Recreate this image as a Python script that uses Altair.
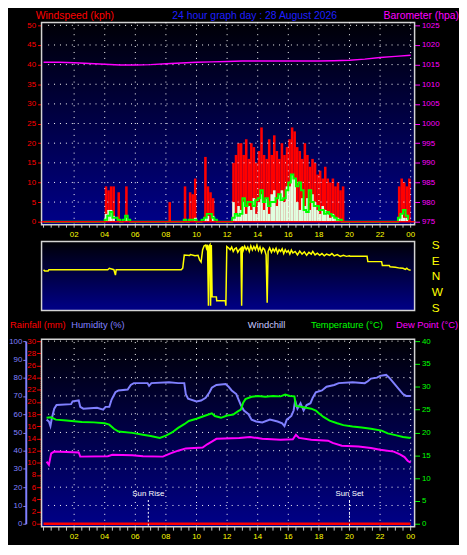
import altair as alt
import pandas as pd

FONT = "Liberation Sans"

# ---------------- data ----------------
# wind, 10-minute steps, one row per hour (00..23)
gust_kph = [
    0, 0, 0, 0, 0, 0,
    0, 0, 0, 0, 0, 0,
    0, 0, 0, 0, 0, 0,
    0, 0, 0, 0, 0, 0,
    9, 8, 9, 9, 0, 7.5,
    0, 0, 9, 0, 0, 0,
    0, 0, 0, 0, 0, 0,
    0, 0, 0, 0, 0, 0,
    0, 5, 0, 0, 0, 0,
    0, 9, 0, 7.5, 7, 11,
    0, 0, 0, 16.5, 9, 7.5,
    6, 0, 0, 0, 0, 0,
    0, 0, 15, 17, 20, 20,
    17, 21, 16, 20, 19, 15,
    18, 24, 17, 16, 21, 17,
    22, 18, 16, 20, 17, 19,
    21, 24, 23, 19, 18, 16,
    20, 17, 14, 16, 15, 12,
    13, 11, 14, 11, 10, 11,
    9, 10, 8, 9, 0, 0,
    0, 0, 0, 0, 0, 0,
    0, 0, 0, 0, 0, 0,
    0, 0, 0, 0, 0, 0,
    0, 9, 11, 10, 9, 11,
]
speed_kph = [
    0, 0, 0, 0, 0, 0,
    0, 0, 0, 0, 0, 0,
    0, 0, 0, 0, 0, 0,
    0, 0, 0, 0, 0, 0,
    2, 3, 3, 1.5, 0, 0,
    0, 0, 1, 0, 0, 0,
    0, 0, 0, 0, 0, 0,
    0, 0, 0, 0, 0, 0,
    0, 0, 0, 0, 0, 0,
    0, 0, 0, 0, 0, 1,
    0, 0, 0, 1, 1.5, 0,
    1.5, 0, 0, 0, 0, 0,
    0, 0, 5, 2, 4, 3,
    5, 2, 4, 3, 6, 2,
    5, 7, 3, 6, 2, 7,
    8, 4, 7, 8, 5, 9,
    9, 12, 11, 5, 3, 6,
    4, 6, 3, 7, 5, 3,
    2, 4, 3, 2, 1, 2,
    1, 1, 0, 0, 0, 0,
    0, 0, 0, 0, 0, 0,
    0, 0, 0, 0, 0, 0,
    0, 0, 0, 0, 0, 0,
    0, 1, 2, 1, 1, 0,
]
avg_kph = [
    0, 0, 0, 0, 0, 0,
    0, 0, 0, 0, 0, 0,
    0, 0, 0, 0, 0, 0,
    0, 0, 0, 0, 0, 0,
    0.5, 1.5, 2.5, 1, 1, 0.5,
    0, 0.5, 1.5, 0.5, 0, 0,
    0, 0, 0, 0, 0, 0,
    0, 0, 0, 0, 0, 0,
    0, 0, 0, 0, 0, 0,
    0, 0.5, 0, 0.5, 0.5, 0.5,
    0, 0, 0.5, 1, 2, 2,
    1, 0.5, 0, 0, 0, 0,
    0, 0, 1, 2, 1.5, 2,
    6, 4, 5, 5, 4, 5.5,
    6, 8, 5, 6, 4, 5,
    5, 6, 7, 5.5, 6, 8,
    10, 12, 11, 9, 10, 8,
    3, 2.5, 8, 5, 4, 4,
    3, 3, 2, 2.5, 2, 1.5,
    1, 0.5, 0.5, 0, 0, 0,
    0, 0, 0, 0, 0, 0,
    0, 0, 0, 0, 0, 0,
    0, 0, 0, 0, 0, 0,
    0, 1, 2, 3, 1.5, 0.5,
]

baro_hour = list(range(25))
baro_hpa = [1015.6, 1015.6, 1015.5, 1015.3, 1015.1, 1014.9, 1014.9, 1015.0,
            1015.2, 1015.4, 1015.6, 1015.7, 1015.8, 1015.9, 1015.9, 1015.9,
            1015.9, 1015.9, 1015.9, 1016.0, 1016.1, 1016.4, 1016.8, 1017.1,
            1017.4]

dir_time = [0.0, 0.08, 0.3, 0.35, 4.2, 4.3, 4.45, 4.6, 4.7, 4.75, 9.0, 9.1,
            9.2, 9.55, 9.6, 9.9, 10.1, 10.2, 10.3, 10.4, 10.5, 10.6, 10.65,
            10.72, 10.78, 10.82, 10.88, 10.92, 10.97, 11.02, 11.3, 11.32,
            11.88, 11.92, 11.98, 12.1, 12.2, 12.3, 12.4, 12.5, 12.6, 12.7,
            12.8, 12.9, 12.95, 13.0, 13.05, 13.15, 13.25, 13.35, 13.45, 13.55,
            13.65, 13.75, 13.85, 13.95, 14.05, 14.15, 14.25, 14.35, 14.45,
            14.55, 14.62, 14.68, 14.78, 14.9, 15.0, 15.1, 15.2, 15.3, 15.4,
            15.5, 15.6, 15.7, 15.8, 15.9, 16.0, 16.1, 16.2, 16.3, 16.45, 16.6,
            16.75, 16.9, 17.05, 17.2, 17.35, 17.5, 17.6, 17.75, 17.9, 18.05,
            18.2, 18.35, 18.5, 18.7, 18.85, 19.0, 19.2, 19.4, 19.6, 19.8,
            20.0, 20.05, 21.15, 21.2, 22.1, 22.15, 22.6, 22.65, 23.0, 23.3,
            23.5, 23.65, 23.75, 23.85, 24.0]
dir_deg = [36, 28, 28, 36, 36, 44, 40, 36, 5, 36, 36, 45,
           119, 117, 122, 116, 118, 92, 80, 150, 172, 176, 158,
           178, 191, 170, 178, 191, 176, 241, 241, 219,
           219, 191, 168, 160, 150, 165, 140, 155, 160, 135,
           150, 158, 191, 170, 145, 170, 150, 165, 140, 172,
           148, 168, 150, 175, 145, 165, 135, 160, 150,
           120, 208, 140, 160, 135, 155, 140, 158, 130, 150,
           140, 155, 128, 150, 135, 145, 125, 148, 132, 140, 120,
           142, 125, 138, 118, 135, 125, 140, 120, 130, 118,
           128, 115, 125, 118, 128, 115, 122, 112, 118, 112,
           115, 112, 112, 82, 82, 60, 60, 53, 50, 45,
           44, 38, 44, 36, 33]

hum_time = [0.2, 0.35, 0.45, 0.55, 0.7, 0.85, 1.8, 1.9, 2.3, 2.4, 2.6, 3.5,
            3.9, 4.05, 4.3, 4.45, 4.7, 4.9, 5.5, 5.7, 5.9, 6.8, 6.9, 7.05,
            8.2, 8.8, 9.2, 9.3, 9.45, 10.0, 10.3, 10.6, 10.85, 11.0, 11.3,
            11.9, 12.1, 12.3, 12.6, 12.75, 12.9, 13.1, 13.4, 13.6, 13.9, 14.3,
            14.8, 15.3, 15.6, 15.75, 15.9, 16.2, 16.35, 16.45, 16.6, 16.8,
            17.0, 17.2, 17.45, 17.6, 17.8, 18.2, 18.5, 19.0, 19.3, 20.2, 21.0,
            21.2, 21.4, 21.8, 22.0, 22.4, 22.6, 22.9, 23.2, 23.5, 23.7, 24.0]
hum_pct = [57, 56, 53.5, 58, 63, 65, 65.5, 67, 67.5, 64, 63, 63.5,
           62.5, 64, 64, 68, 72, 73, 73.5, 76, 77, 77, 75.5, 77,
           77.5, 77, 77, 71, 68.5, 67, 67.5, 69, 72, 74.5, 76,
           76.5, 75, 73, 71, 68, 65, 62, 60, 57, 56, 55.5,
           57, 56, 55, 53.5, 57, 59, 62, 67.5, 63, 66,
           62, 65, 66, 69, 72, 73, 75, 76, 77, 77.5, 77,
           78, 79.5, 80, 81, 81.5, 80, 77, 74, 71, 70, 70]

temp_time = [0.2, 0.5, 0.8, 1.5, 2.5, 3.3, 4.0, 4.3, 4.6, 4.9, 5.8, 6.5, 7.0,
             7.6, 8.0, 8.4, 8.8, 9.2, 9.5, 10.0, 10.5, 11.0, 11.2, 11.6, 12.0,
             12.4, 12.7, 12.9, 13.05, 13.2, 13.6, 14.0, 14.5, 15.0, 15.5, 15.8,
             16.1, 16.4, 16.5, 17.0, 17.5, 17.8, 18.0, 18.3, 18.7, 19.2, 19.6,
             20.2, 20.8, 21.4, 22.1, 22.5, 23.0, 23.5, 24.0]
temp_c = [23.2, 23.3, 22.8, 22.6, 22.3, 22.2, 22.0, 21.7, 20.8, 20.2, 19.9,
          19.5, 19.2, 18.8, 19.3, 20.0, 21.0, 21.8, 22.5, 23.0, 23.6, 24.2,
          23.6, 23.2, 23.7, 23.9, 24.6, 25.0, 26.5, 27.3, 27.8, 28.0, 27.8,
          28.0, 27.9, 28.3, 28.0, 27.9, 25.8, 25.5, 25.2, 24.8, 24.2, 23.4,
          22.6, 22.0, 21.6, 21.3, 21.1, 20.8, 20.4, 19.8, 19.4, 19.0, 18.8]

dew_time = [0.2, 0.35, 0.5, 0.7, 2.3, 2.4, 4.2, 4.5, 5.8, 6.5, 7.8, 8.3, 8.8,
            9.3, 10.4, 10.7, 11.0, 11.3, 12.8, 13.5, 14.3, 15.5, 16.3, 16.5,
            16.7, 17.5, 18.6, 18.9, 19.5, 20.6, 21.4, 22.0, 22.9, 23.3, 23.6,
            23.8, 24.0]
dew_c = [13.6, 12.9, 15.4, 15.8, 15.6, 14.7, 14.8, 15.1, 15.0, 14.8, 14.7,
         15.4, 16.0, 16.5, 16.7, 17.4, 18.0, 18.6, 18.8, 19.0, 18.6, 18.4,
         18.5, 19.5, 18.8, 18.4, 18.2, 17.7, 17.1, 16.9, 16.6, 16.2, 15.8,
         15.2, 14.6, 13.8, 13.4]

rain_time = [0, 24]
rain_mm = [0, 0]

sun_event = ["Sun Rise", "Sun Set"]
sun_time = [6.85, 20.0]

label_hours = [2, 4, 6, 8, 10, 12, 14, 16, 18, 20, 22, 24]
label_text = ["02", "04", "06", "08", "10", "12", "14", "16", "18", "20", "22", "00"]
tick_hours = [h / 2 for h in range(49)]
grid_hours = [2, 4, 6, 8, 10, 12, 14, 16, 18, 20, 22, 24]
wind_grid = [5, 10, 15, 20, 25, 30, 35, 40, 45, 50]
hum_grid = [10, 20, 30, 40, 50, 60, 70, 80, 90, 100]

# ---------------- layout helpers ----------------
W = 378
H = 511
XS = alt.Scale(domain=[-0.13, 24.257], nice=False, zero=False)
WIND_S = alt.Scale(domain=[0, 50], range=[202, 3], nice=False, zero=False)
BARO_S = alt.Scale(domain=[975, 1025], range=[202, 3], nice=False, zero=False)
DIR_S = alt.Scale(domain=[0, 360], range=[225, 289], nice=False, zero=False)
HUM_S = alt.Scale(domain=[0, 100], range=[508, 323], nice=False, zero=False)
RAIN_S = alt.Scale(domain=[0, 30], range=[508, 323], nice=False, zero=False)
TEMP_S = alt.Scale(domain=[0, 40], range=[508, 323], nice=False, zero=False)

common_axis = dict(labelFont=FONT, labelFontSize=8, grid=False, title=None,
                   labelFlush=False, labelOverlap=False, format="d")
WIND_AX = alt.Axis(orient="left", values=list(range(0, 51, 5)), labelColor="#ff0000",
                   tickColor="#ff0000", tickSize=4, labelPadding=2, domain=False, **common_axis)
BARO_AX = alt.Axis(orient="right", values=list(range(975, 1026, 5)), labelColor="#ff00ff",
                   tickColor="#ff00ff", tickSize=5, labelPadding=2, domain=False, **common_axis)
DIR_AX = alt.Axis(orient="right", values=[0, 90, 180, 270, 360],
                  labelExpr="['S','E','N','W','S'][round(datum.value/90)]",
                  ticks=False, domain=False, labelColor="#ffff00", labelPadding=17,
                  labelFont=FONT, labelFontSize=12, grid=False, title=None,
                  labelFlush=False, labelOverlap=False)
HUM_AX = alt.Axis(orient="left", offset=16, values=list(range(0, 101, 10)), labelColor="#8080ff",
                  tickColor="#8080ff", tickSize=3, labelPadding=1, domain=True,
                  domainColor="#8080ff", domainWidth=2, **common_axis)
RAIN_AX = alt.Axis(orient="left", offset=1, values=list(range(0, 31, 2)), labelColor="#ff0000",
                   tickColor="#ff0000", tickSize=4, labelPadding=1, domain=True,
                   domainColor="#ff0000", domainDash=[1, 1], **common_axis)
TEMP_AX = alt.Axis(orient="right", values=list(range(0, 41, 5)), labelColor="#00ff00",
                   tickColor="#00ff00", tickSize=5, labelPadding=2, domain=False, **common_axis)

GRAD = {"gradient": "linear", "x1": 0, "y1": 0, "x2": 0, "y2": 1,
        "stops": [{"offset": 0, "color": "#000006"}, {"offset": 1, "color": "#000088"}]}


def xq(field):
    return alt.X(field, type="quantitative", scale=XS, axis=None)


def yq(field, scale, axis):
    return alt.Y(field, type="quantitative", scale=scale, axis=axis)


# ---------------- dataframes ----------------
n = len(gust_kph)
wind = pd.DataFrame({"t0": [i / 6 for i in range(n)], "t1": [(i + 1) / 6 for i in range(n)],
                     "gust": gust_kph, "speed": speed_kph, "avg": avg_kph, "zero": [0] * n})
baro = pd.DataFrame({"t": baro_hour, "v": baro_hpa})
dird = pd.DataFrame({"t": dir_time, "deg": dir_deg})
hum = pd.DataFrame({"t": hum_time, "v": hum_pct})
temp = pd.DataFrame({"t": temp_time, "v": temp_c})
dew = pd.DataFrame({"t": dew_time, "v": dew_c})
rain = pd.DataFrame({"t": rain_time, "v": rain_mm})
sun = pd.DataFrame({"event": sun_event, "t": sun_time})
labs = pd.DataFrame({"t": label_hours, "txt": label_text})
ticks = pd.DataFrame({"t": tick_hours})

frame1 = pd.DataFrame({"x0": [-0.13], "x1": [24.257], "y0": [-0.75], "y1": [50.75]})
frame2 = pd.DataFrame({"x0": [-0.13], "x1": [24.257], "y0": [-16.9], "y1": [376.9]})
frame3 = pd.DataFrame({"x0": [-0.13], "x1": [24.257], "y0": [-1.62], "y1": [101.08]})
vgrid1 = pd.DataFrame({"t": grid_hours, "y0": [-0.75] * 12, "y1": [50.75] * 12})
hgrid1 = pd.DataFrame({"v": wind_grid, "x0": [0.3] * 10, "x1": [24.0] * 10})
vgrid3 = pd.DataFrame({"t": grid_hours, "y0": [-1.62] * 12, "y1": [101.08] * 12})
hgrid3 = pd.DataFrame({"v": hum_grid, "x0": [0.3] * 10, "x1": [24.0] * 10})

DOT = dict(color="#ffffff", strokeDash=[1, 5], strokeWidth=1)

# ---------------- panel 1 : wind ----------------
p1_bg = alt.Chart(frame1).mark_rect(fill=GRAD, stroke="#d4d4d4", strokeWidth=1.5).encode(
    x=xq("x0"), x2="x1", y=yq("y0", WIND_S, WIND_AX), y2="y1")
p1_gust = alt.Chart(wind).transform_filter("datum.gust > 0").mark_rect(color="#ff0000").encode(
    x=xq("t0"), x2="t1", y=yq("gust", WIND_S, WIND_AX), y2="zero")
p1_speed = alt.Chart(wind).transform_filter("datum.speed > 0").mark_rect(color="#e0ffe0").encode(
    x=xq("t0"), x2="t1", y=yq("speed", WIND_S, WIND_AX), y2="zero")
p1_vg = alt.Chart(vgrid1).mark_rule(**DOT).encode(x=xq("t"), y=yq("y0", WIND_S, WIND_AX), y2="y1")
p1_hg = alt.Chart(hgrid1).mark_rule(**DOT).encode(x=xq("x0"), x2="x1", y=yq("v", WIND_S, WIND_AX))
p1_avg = alt.Chart(wind).mark_line(color="#00ff00", strokeWidth=2, interpolate="step-after").encode(
    x=xq("t0"), y=yq("avg", WIND_S, WIND_AX))
p1_zero = alt.Chart(frame1).mark_rule(color="#ff0000", strokeWidth=1.5).encode(
    x=xq("x0"), x2="x1", y=alt.Y("datum0:Q", scale=WIND_S, axis=WIND_AX)).transform_calculate(datum0="0")
L1 = alt.layer(p1_bg, p1_gust, p1_speed, p1_vg, p1_hg, p1_avg, p1_zero)

L1b = alt.Chart(baro).mark_line(color="#ff00ff", strokeWidth=1.5).encode(
    x=xq("t"), y=yq("v", BARO_S, BARO_AX))

# ---------------- panel 2 : direction ----------------
p2_bg = alt.Chart(frame2).mark_rect(fill=GRAD, stroke="#d4d4d4", strokeWidth=1.5).encode(
    x=xq("x0"), x2="x1", y=yq("y0", DIR_S, DIR_AX), y2="y1")
p2_line = alt.Chart(dird).transform_calculate(pos="(180 - datum.deg + 360) % 360").mark_line(
    color="#ffff00", strokeWidth=1.5).encode(x=xq("t"), y=yq("pos", DIR_S, DIR_AX))
L2 = alt.layer(p2_bg, p2_line)

# ---------------- panel 3 : humidity / temperature ----------------
p3_bg = alt.Chart(frame3).mark_rect(fill=GRAD, stroke="#d4d4d4", strokeWidth=1.5).encode(
    x=xq("x0"), x2="x1", y=yq("y0", HUM_S, HUM_AX), y2="y1")
p3_vg = alt.Chart(vgrid3).mark_rule(**DOT).encode(x=xq("t"), y=yq("y0", HUM_S, HUM_AX), y2="y1")
p3_hg = alt.Chart(hgrid3).mark_rule(**DOT).encode(x=xq("x0"), x2="x1", y=yq("v", HUM_S, HUM_AX))
p3_hum = alt.Chart(hum).mark_line(color="#8080ff", strokeWidth=2).encode(
    x=xq("t"), y=yq("v", HUM_S, HUM_AX))
L3 = alt.layer(p3_bg, p3_vg, p3_hg, p3_hum)

L4 = alt.Chart(rain).mark_line(color="#ff0000", strokeWidth=2.5).encode(
    x=xq("t"), y=yq("v", RAIN_S, RAIN_AX))

p5_temp = alt.Chart(temp).mark_line(color="#00ff00", strokeWidth=2).encode(
    x=xq("t"), y=yq("v", TEMP_S, TEMP_AX))
p5_dew = alt.Chart(dew).mark_line(color="#ff00ff", strokeWidth=2).encode(
    x=xq("t"), y=yq("v", TEMP_S, TEMP_AX))
L5 = alt.layer(p5_temp, p5_dew)

# ---------------- sun annotations, time labels, titles ----------------
sun_rule = alt.Chart(sun).mark_rule(color="#ffffff", strokeDash=[2, 2], strokeWidth=1).encode(
    x=xq("t"), y=alt.value(484), y2=alt.value(511))
sun_text = alt.Chart(sun).mark_text(color="#ffffff", font=FONT, fontSize=8).encode(
    x=xq("t"), y=alt.value(478), text="event:N")

tick1 = alt.Chart(ticks).mark_rule(color="#c8c8c8").encode(x=xq("t"), y=alt.value(205), y2=alt.value(208))
tick3 = alt.Chart(ticks).mark_rule(color="#c8c8c8").encode(x=xq("t"), y=alt.value(511), y2=alt.value(515))
lab1 = alt.Chart(labs).mark_text(color="#ffff00", font=FONT, fontSize=8).encode(
    x=xq("t"), y=alt.value(215.7), text="txt:N")
lab3 = alt.Chart(labs).mark_text(color="#ffff00", font=FONT, fontSize=8).encode(
    x=xq("t"), y=alt.value(521.8), text="txt:N")


def label(txt, x, y, color, align="left", size=10.5):
    return alt.Chart(pd.DataFrame({"s": [txt]})).mark_text(
        align=align, baseline="middle", color=color, font=FONT, fontSize=size).encode(
        x=alt.value(x), y=alt.value(y), text="s:N")


titles = [
    label("Windspeed (kph)", -6, -6, "#ff0000"),
    label("24 hour graph day : 28 August 2026", 216, -6, "#1f1fff", align="center"),
    label("Barometer (hpa)", 423, -6, "#ff00ff", align="right"),
    label("Rainfall (mm)", -32, 307, "#ff0000", size=9.5),
    label("Humidity (%)", 30, 307, "#8080ff", size=9.5),
    label("Windchill", 209, 307, "#c8c8ff", size=9.5),
    label("Temperature (\u00b0C)", 273, 307, "#00ff00", size=9.5),
    label("Dew Point (\u00b0C)", 422, 307, "#ff00ff", align="right", size=9.5),
]

chart = alt.layer(
    L1, L1b, L2, L3, L4, L5, sun_rule, sun_text, tick1, tick3, lab1, lab3, *titles
).resolve_scale(y="independent").resolve_axis(y="independent").properties(
    width=W, height=H, background="#000000", padding=0
).configure_view(stroke=None)

chart.save("out.html", embed_options={"renderer": "svg", "actions": False})
